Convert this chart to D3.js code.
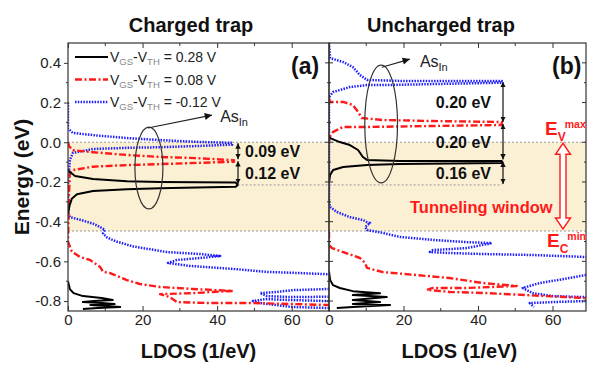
<!DOCTYPE html>
<html>
<head>
<meta charset="utf-8">
<script src="https://cdn.jsdelivr.net/npm/d3@7"></script>
<style>
  body { margin: 0; background: #fff; }
  svg { display: block; font-family: Arial, "Liberation Sans", sans-serif; }
</style>
</head>
<body>
<div id="chart"></div>
<script>
// axis ticks
const ldosTicks = [0, 20, 40, 60];
const energyTicks = [0.4, 0.2, 0.0, -0.2, -0.4, -0.6, -0.8];
const legendValues = ["0.28", "0.08", "-0.12"];   // VGS-VTH for black, red, blue

// tunneling window (eV)
const windowTop = 0.0;
const windowBottom = -0.447;

// LDOS curves, each a list of segments of [LDOS, energy]
const chargedBlack = [
  [[0,-0.14],[0.5,-0.15],[1.9,-0.17],[6.7,-0.185],[15.8,-0.196],[24.7,-0.2],[34.6,-0.202],[45,-0.203],[45.5,-0.215],[45,-0.224],[34.6,-0.228],[24.7,-0.232],[15.8,-0.237],[6.7,-0.246],[2.4,-0.262],[1,-0.285],[0.4,-0.32],[0,-0.36]],
  [[0,-0.7],[0.5,-0.74],[1.5,-0.76],[4,-0.775],[9,-0.785],[12,-0.795],[7,-0.8],[4,-0.805],[9,-0.81],[12.5,-0.815],[6,-0.82],[10,-0.825],[14,-0.83],[8,-0.835],[4,-0.84]]
];
const chargedRed = [
  [[0,0.0],[0.3,-0.02],[1.3,-0.04],[6.7,-0.05],[15.8,-0.064],[24.7,-0.074],[34.6,-0.08],[44.5,-0.09],[44.5,-0.098],[34.6,-0.104],[24.7,-0.11],[15.8,-0.115],[6.7,-0.123],[1.3,-0.14],[0.5,-0.155],[0.2,-0.3],[0,-0.5],
   [1,-0.55],[3.2,-0.578],[5.9,-0.593],[8.6,-0.628],[9.4,-0.653],[11.3,-0.659],[15.8,-0.694],[19.3,-0.714],[24.7,-0.729],[33.5,-0.739],[44.2,-0.749],[38.9,-0.754],[33.5,-0.76],[24.7,-0.765],[27.3,-0.78],[29.2,-0.805],[38,-0.81],[49.6,-0.81],[60.3,-0.815],[70,-0.82]]
];
const chargedBlue = [
  [[0,0.2],[0,0.07],[1.3,0.047],[6.7,0.036],[15.8,0.021],[24.7,0.011],[34.6,0.002],[44,-0.003],[44,-0.012],[34.6,-0.019],[24.7,-0.025],[15.8,-0.028],[6.7,-0.034],[1.3,-0.054],[0.5,-0.09],[0,-0.2],[0,-0.35],
   [0.5,-0.377],[3.2,-0.39],[6.7,-0.41],[8.6,-0.427],[9.9,-0.442],[9.4,-0.46],[10.5,-0.48],[13,-0.5],[17.5,-0.525],[26.5,-0.553],[35.4,-0.563],[40.8,-0.573],[35.4,-0.583],[29.2,-0.593],[26.8,-0.608],[32.7,-0.623],[44.2,-0.638],[53.4,-0.653],[62.2,-0.659],[70,-0.665]],
  [[70,-0.739],[60.3,-0.745],[56,-0.754],[51.5,-0.76],[53.4,-0.775],[60.3,-0.78],[70,-0.778]],
  [[70,-0.835],[60.3,-0.83],[51.5,-0.81],[49.6,-0.8],[53,-0.79],[60,-0.795],[70,-0.8]]
];

const unchargedBlack = [
  [[0,0.03],[0.3,0.021],[2.9,0.001],[5.6,-0.014],[7.8,-0.039],[9.1,-0.074],[10.2,-0.089],[19,-0.094],[46.4,-0.094],[46.4,-0.105],[19,-0.11],[10.2,-0.115],[3.8,-0.125],[1.1,-0.14],[0.3,-0.165],[0,-0.2]],
  [[0,-0.65],[0.3,-0.694],[1.1,-0.72],[2.9,-0.734],[6.4,-0.75],[13.7,-0.76],[6.4,-0.77],[15.5,-0.78],[6.4,-0.795],[13.7,-0.805],[6.4,-0.815],[16.4,-0.82],[6.4,-0.83],[2.1,-0.835]]
];
const unchargedRed = [
  [[0,0.22],[0.3,0.203],[3.8,0.203],[6.4,0.188],[7.8,0.153],[8.8,0.122],[14.5,0.112],[27.9,0.107],[46.4,0.102],[46.4,0.087],[27.9,0.082],[10.2,0.077],[3.8,0.077],[1.1,0.052],[0.3,0.03],[0,0.0]],
  [[0,-0.45],[0,-0.518],[0.8,-0.533],[3.8,-0.553],[8.3,-0.583],[9.7,-0.608],[10.2,-0.633],[14.5,-0.654],[23.6,-0.669],[32.4,-0.684],[41.3,-0.709],[50.4,-0.724],[37,-0.734],[27.9,-0.734],[26.3,-0.744],[32.4,-0.754],[41.3,-0.759],[53.1,-0.77],[69,-0.785]]
];
const unchargedBlue = [
  [[0,0.5],[0.3,0.424],[3.8,0.404],[6.4,0.379],[8.3,0.339],[10.2,0.314],[19,0.309],[32.4,0.309],[46.4,0.309],[46.4,0.3],[27.9,0.293],[14.5,0.288],[10.2,0.288],[5.6,0.278],[1.1,0.253],[0,0.228],[0,-0.3],
   [0.3,-0.326],[2.1,-0.351],[5.6,-0.377],[9.1,-0.392],[10.2,-0.402],[11,-0.407],[9.7,-0.427],[10.2,-0.442],[14.5,-0.457],[19,-0.477],[27.9,-0.492],[37,-0.503],[43.7,-0.508],[37,-0.533],[27.9,-0.543],[27.1,-0.553],[32.4,-0.558],[41.3,-0.563],[54.7,-0.568],[69,-0.578]],
  [[69,-0.669],[64.6,-0.684],[56.6,-0.709],[52,-0.734],[54.7,-0.76],[60.1,-0.775],[69,-0.78]],
  [[69,-0.8],[60.1,-0.805],[53.9,-0.81],[55,-0.83]]
];

// energy levels marked by the brackets
const chargedLevels = [0.0, -0.09, -0.215];
const chargedGaps = ["0.09 eV", "0.12 eV"];
const unchargedLevels = [0.309, 0.097, -0.092, -0.215];
const unchargedGaps = ["0.20 eV", "0.20 eV", "0.16 eV"];

const width = 589, height = 365;
const plotTop = 43, plotBottom = 311;

const svg = d3.select("#chart").append("svg")
  .attr("width", width)
  .attr("height", height);

const y = d3.scaleLinear().domain([-0.85, 0.5]).range([plotBottom, plotTop]);
const xa = d3.scaleLinear().domain([0, 70]).range([68, 329]);
const xb = d3.scaleLinear().domain([0, 69]).range([329, 586]);

const styles = {
  black: { stroke: "#000", width: 2, dash: null },
  red: { stroke: "#ff1a1a", width: 2.4, dash: "7,2.5,2,2.5" },
  blue: { stroke: "#1f1fff", width: 2.5, dash: "1.5,1.3" }
};

const defs = svg.append("defs");
defs.append("marker").attr("id", "tip")
  .attr("viewBox", "0 0 10 10").attr("refX", 10).attr("refY", 5)
  .attr("markerWidth", 4.5).attr("markerHeight", 4.5)
  .attr("orient", "auto-start-reverse")
  .append("path").attr("d", "M0,0L10,5L0,10z").attr("fill", "#111");
defs.append("marker").attr("id", "bigtip")
  .attr("viewBox", "0 0 10 10").attr("refX", 10).attr("refY", 5)
  .attr("markerWidth", 7).attr("markerHeight", 6)
  .attr("orient", "auto")
  .append("path").attr("d", "M0,0L10,5L0,10z").attr("fill", "#111");

[["clipA", xa], ["clipB", xb]].forEach(([id, x]) => {
  defs.append("clipPath").attr("id", id)
    .append("rect")
    .attr("x", x.range()[0]).attr("y", plotTop)
    .attr("width", x.range()[1] - x.range()[0]).attr("height", plotBottom - plotTop);
});

// tunneling window shading and its dotted borders
svg.append("rect")
  .attr("x", xa(0)).attr("y", y(windowTop))
  .attr("width", xb(69) - xa(0)).attr("height", y(windowBottom) - y(windowTop))
  .attr("fill", "#fcf0d4");

[windowTop, windowBottom].forEach(e => {
  svg.append("line")
    .attr("x1", xa(0)).attr("x2", xb(69))
    .attr("y1", y(e)).attr("y2", y(e))
    .attr("stroke", "#999").attr("stroke-width", 1).attr("stroke-dasharray", "2,2");
});
// dotted line at the lowest bracket level
svg.append("line")
  .attr("x1", xa(45.5)).attr("x2", xb(46.5))
  .attr("y1", y(-0.215)).attr("y2", y(-0.215))
  .attr("stroke", "#999").attr("stroke-width", 1).attr("stroke-dasharray", "2,2");

function drawPanel(x, clip, curves) {
  const line = d3.line().x(d => x(d[0])).y(d => y(d[1]));
  const g = svg.append("g").attr("clip-path", "url(#" + clip + ")");
  curves.forEach(([key, segs]) => {
    const s = styles[key];
    g.selectAll(null)
      .data(segs)
      .enter()
      .append("path")
      .attr("d", line)
      .attr("fill", "none")
      .attr("stroke", s.stroke)
      .attr("stroke-width", s.width)
      .attr("stroke-dasharray", s.dash)
      .attr("stroke-linejoin", "round");
  });
}

drawPanel(xa, "clipA", [["blue", chargedBlue], ["red", chargedRed], ["black", chargedBlack]]);
drawPanel(xb, "clipB", [["blue", unchargedBlue], ["red", unchargedRed], ["black", unchargedBlack]]);

// frames and ticks
const minorE = d3.range(-0.8, 0.5, 0.1).filter(v => Math.abs(Math.round(v * 10)) % 2 === 1);
const minorL = [10, 30, 50];

function frame(x) {
  const [x0, x1] = x.range();
  svg.append("rect")
    .attr("x", x0).attr("y", plotTop).attr("width", x1 - x0).attr("height", plotBottom - plotTop)
    .attr("fill", "none").attr("stroke", "#333").attr("stroke-width", 1.2);

  const bot = svg.append("g").attr("transform", "translate(0," + plotBottom + ")")
    .call(d3.axisBottom(x).tickValues(ldosTicks).tickSizeInner(-5).tickSizeOuter(0).tickPadding(3));
  bot.select(".domain").remove();
  bot.selectAll("text").attr("font-size", 15).attr("fill", "#222")
    .attr("font-family", "Arial, 'Liberation Sans', sans-serif");
  bot.selectAll("line").attr("stroke", "#333");

  const tp = svg.append("g").attr("transform", "translate(0," + plotTop + ")")
    .call(d3.axisTop(x).tickValues(ldosTicks).tickSizeInner(-5).tickSizeOuter(0).tickFormat(""));
  tp.select(".domain").remove();
  tp.selectAll("line").attr("stroke", "#333");

  [plotBottom, plotTop].forEach(yy => {
    const dir = yy === plotBottom ? -1 : 1;
    svg.selectAll(null).data(minorL.filter(v => v <= x.domain()[1])).enter().append("line")
      .attr("x1", d => x(d)).attr("x2", d => x(d))
      .attr("y1", yy).attr("y2", yy + dir * 3)
      .attr("stroke", "#333");
  });
}
frame(xa);
frame(xb);

// left energy axis
const left = svg.append("g").attr("transform", "translate(" + xa(0) + ",0)")
  .call(d3.axisLeft(y).tickValues(energyTicks).tickSizeInner(4).tickSizeOuter(0).tickPadding(3)
    .tickFormat(d => d.toFixed(1)));
left.select(".domain").remove();
left.selectAll("text").attr("font-size", 15).attr("fill", "#222")
  .attr("font-family", "Arial, 'Liberation Sans', sans-serif");
left.selectAll("line").attr("stroke", "#333");

function yTicks(xPos, lenOut, lenIn, values) {
  svg.selectAll(null).data(values).enter().append("line")
    .attr("x1", xPos - lenOut).attr("x2", xPos + lenIn)
    .attr("y1", d => y(d)).attr("y2", d => y(d))
    .attr("stroke", "#333");
}
yTicks(xa(0), 2, 0, minorE);
yTicks(xb(0), 4, 4, energyTicks);
yTicks(xb(0), 2, 2, minorE);
yTicks(xb(69), 0, -4, energyTicks);
yTicks(xb(69), 0, -2, minorE);

// titles and axis labels
svg.append("text").attr("x", 191).attr("y", 32).attr("text-anchor", "middle")
  .attr("font-size", 20).attr("font-weight", "bold").attr("fill", "#111").text("Charged trap");
svg.append("text").attr("x", 441).attr("y", 32).attr("text-anchor", "middle")
  .attr("font-size", 20).attr("font-weight", "bold").attr("fill", "#111").text("Uncharged trap");
svg.append("text").attr("transform", "translate(29,177) rotate(-90)").attr("text-anchor", "middle")
  .attr("font-size", 21).attr("font-weight", "bold").attr("fill", "#111").text("Energy (eV)");
[[xa, 35], [xb, 35]].forEach(([x, mid]) => {
  svg.append("text").attr("x", x(mid)).attr("y", 358).attr("text-anchor", "middle")
    .attr("font-size", 20).attr("font-weight", "bold").attr("fill", "#111").text("LDOS (1/eV)");
});

svg.append("text").attr("x", 291).attr("y", 74).attr("font-size", 23).attr("font-weight", "bold")
  .attr("fill", "#111").text("(a)");
svg.append("text").attr("x", 552).attr("y", 74).attr("font-size", 23).attr("font-weight", "bold")
  .attr("fill", "#111").text("(b)");

// legend
const legend = svg.append("g");
["black", "red", "blue"].forEach((key, i) => {
  const s = styles[key];
  const ly = 57 + i * 22.5;
  legend.append("line")
    .attr("x1", 75).attr("x2", 108).attr("y1", ly).attr("y2", ly)
    .attr("stroke", s.stroke).attr("stroke-width", s.width)
    .attr("stroke-dasharray", s.dash);
  const t = legend.append("text").attr("x", 110).attr("y", ly + 5)
    .attr("font-size", 14).attr("fill", "#222");
  t.append("tspan").text("V");
  t.append("tspan").attr("font-size", 9.5).attr("fill", "#888").attr("dy", 3).text("GS");
  t.append("tspan").attr("dy", -3).text("-V");
  t.append("tspan").attr("font-size", 9.5).attr("fill", "#888").attr("dy", 3).text("TH");
  t.append("tspan").attr("dy", -3).text(" = " + legendValues[i] + " V");
});

// As_In ellipses with arrows
function asLabel(x, cx, cy, rx, ry, from, to, label) {
  svg.append("ellipse")
    .attr("cx", x(cx)).attr("cy", y(cy))
    .attr("rx", x(rx) - x(0)).attr("ry", y(0) - y(ry))
    .attr("fill", "none").attr("stroke", "#333").attr("stroke-width", 1.2);
  svg.append("line")
    .attr("x1", x(from[0])).attr("y1", y(from[1]))
    .attr("x2", x(to[0])).attr("y2", y(to[1]))
    .attr("stroke", "#222").attr("stroke-width", 1.2)
    .attr("marker-end", "url(#bigtip)");
  const t = svg.append("text").attr("x", x(label[0])).attr("y", y(label[1]))
    .attr("font-size", 16).attr("fill", "#222");
  t.append("tspan").text("As");
  t.append("tspan").attr("font-size", 11).attr("dy", 4).text("In");
}
asLabel(xa, 21.7, -0.13, 3.75, 0.206, [21.4, 0.072], [38.6, 0.137], [40.8, 0.1]);
asLabel(xb, 14.0, 0.092, 4.4, 0.297, [14.2, 0.378], [21.7, 0.419], [24.4, 0.38]);

// energy-gap brackets
function bracket(px, levels, gaps, textX, anchor) {
  for (let i = 0; i < gaps.length; i++) {
    const y1 = y(levels[i]) + 1, y2 = y(levels[i + 1]) - 1;
    svg.append("line")
      .attr("x1", px).attr("x2", px).attr("y1", y1).attr("y2", y2)
      .attr("stroke", "#111").attr("stroke-width", 1.2)
      .attr("marker-start", "url(#tip)").attr("marker-end", "url(#tip)");
    svg.append("text").attr("x", textX).attr("y", (y1 + y2) / 2 + 6)
      .attr("text-anchor", anchor)
      .attr("font-size", 16).attr("font-weight", "bold").attr("fill", "#111")
      .text(gaps[i]);
  }
}
bracket(238, chargedLevels, chargedGaps, 245, "start");
bracket(503, unchargedLevels, unchargedGaps, 491, "end");

// tunneling window arrow and labels
const ax = 563, aTop = y(windowTop) + 1, aBot = y(windowBottom) - 2;
const hw = 7.5, hl = 11, sw = 3;
svg.append("path")
  .attr("d", `M${ax},${aTop}L${ax + hw},${aTop + hl}L${ax + sw},${aTop + hl}L${ax + sw},${aBot - hl}` +
    `L${ax + hw},${aBot - hl}L${ax},${aBot}L${ax - hw},${aBot - hl}L${ax - sw},${aBot - hl}` +
    `L${ax - sw},${aTop + hl}L${ax - hw},${aTop + hl}Z`)
  .attr("fill", "#fff").attr("stroke", "#ff1a1a").attr("stroke-width", 1.4);

svg.append("text").attr("x", 410).attr("y", 213)
  .attr("font-size", 16.5).attr("font-weight", "bold").attr("fill", "#ff1a1a")
  .text("Tunneling window");

function bandLabel(xp, yp, sub, sup) {
  const t = svg.append("text").attr("x", xp).attr("y", yp)
    .attr("font-size", 19).attr("font-weight", "bold").attr("fill", "#ff1a1a");
  t.append("tspan").text("E");
  t.append("tspan").attr("font-size", 12).attr("dy", 6).text(sub);
  t.append("tspan").attr("font-size", 10.5).attr("dx", -1).attr("dy", -13).text(sup);
}
bandLabel(545, 135, "V", "max");
bandLabel(547, 247, "C", "min");
</script>
</body>
</html>
